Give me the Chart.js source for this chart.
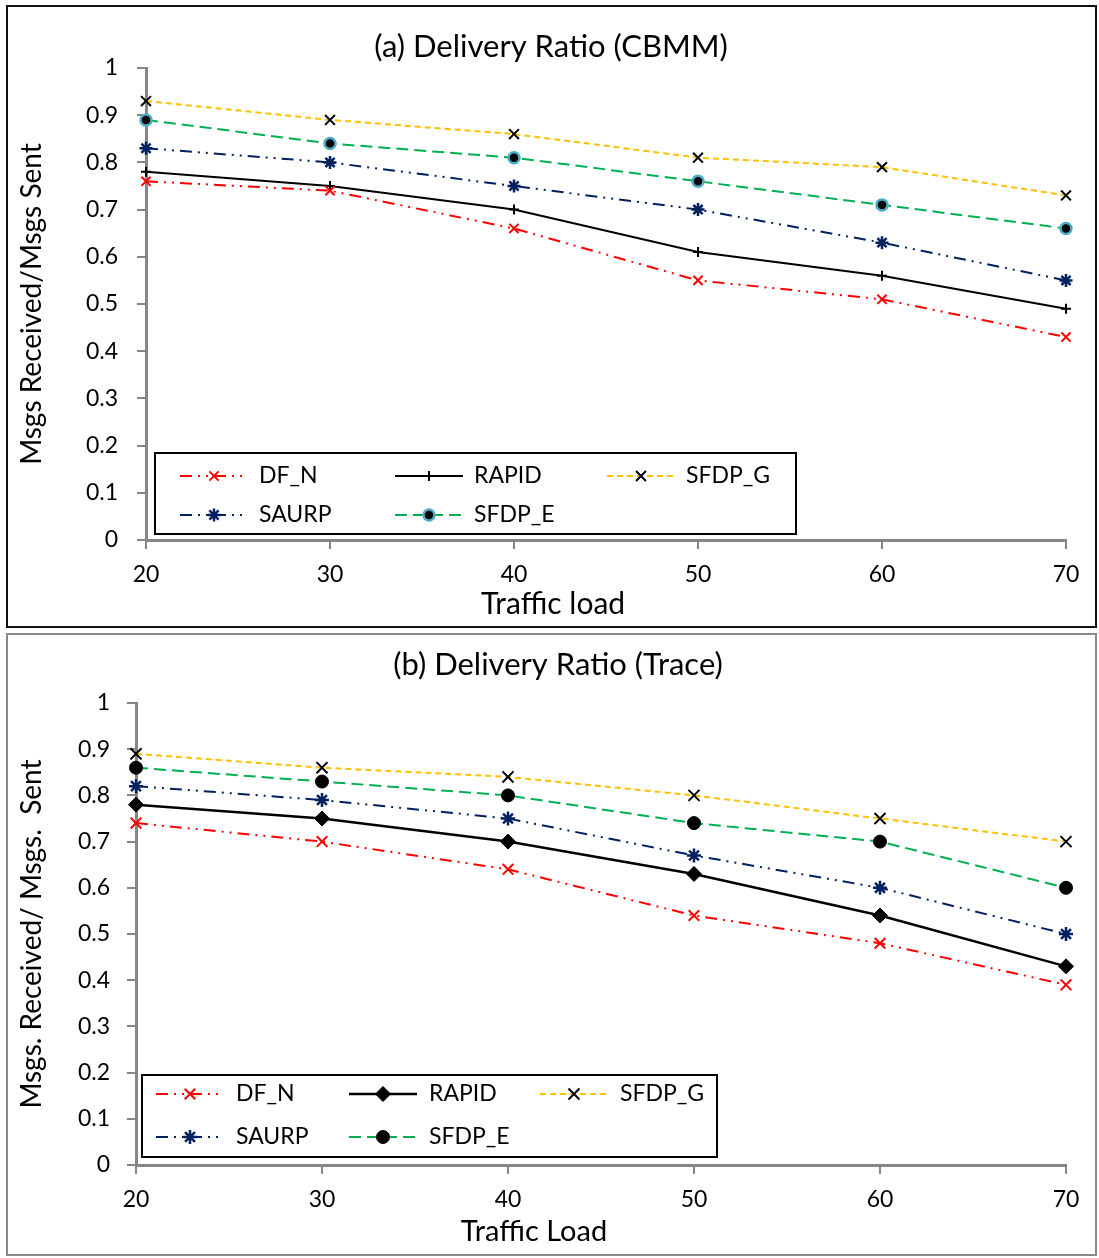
<!DOCTYPE html>
<html>
<head>
<meta charset="utf-8">
<title>Delivery Ratio</title>
<script src="https://cdn.jsdelivr.net/npm/chart.js@4.4.0/dist/chart.umd.min.js"></script>
<style>
    body { margin: 0; background: #fff; width: 1099px; height: 1258px; position: relative; overflow: hidden; }
    .panel { position: absolute; left: 6px; width: 1091px; height: 623px; box-sizing: border-box; background: #fff; }
    #panel-a { top: 5px; border: 2px solid #111; }
    #panel-b { top: 633px; border: 2px solid #8a8a8a; }
    canvas { display: block; }
</style>
</head>
<body>
<div class="panel" id="panel-a"><canvas id="chart-a" width="1087" height="619"></canvas></div>
<div class="panel" id="panel-b"><canvas id="chart-b" width="1087" height="619"></canvas></div>
<script>
// 数据
const trafficLoad = [20, 30, 40, 50, 60, 70];
const yTicks = [0, 0.1, 0.2, 0.3, 0.4, 0.5, 0.6, 0.7, 0.8, 0.9, 1];

// (a) CBMM
const cbmmDFN    = [0.76, 0.74, 0.66, 0.55, 0.51, 0.43];
const cbmmRAPID  = [0.78, 0.75, 0.70, 0.61, 0.56, 0.49];
const cbmmSFDPG  = [0.93, 0.89, 0.86, 0.81, 0.79, 0.73];
const cbmmSAURP  = [0.83, 0.80, 0.75, 0.70, 0.63, 0.55];
const cbmmSFDPE  = [0.89, 0.84, 0.81, 0.76, 0.71, 0.66];

// (b) Trace
const traceDFN   = [0.74, 0.70, 0.64, 0.54, 0.48, 0.39];
const traceRAPID = [0.78, 0.75, 0.70, 0.63, 0.54, 0.43];
const traceSFDPG = [0.89, 0.86, 0.84, 0.80, 0.75, 0.70];
const traceSAURP = [0.82, 0.79, 0.75, 0.67, 0.60, 0.50];
const traceSFDPE = [0.86, 0.83, 0.80, 0.74, 0.70, 0.60];

Chart.defaults.font.family = 'Lato';
Chart.defaults.color = '#000';

const AXIS_GRAY = '#868686';

function makeSet(label, values, style) {
    return Object.assign({
        label: label,
        data: trafficLoad.map((x, i) => ({ x: x, y: values[i] })),
        fill: false,
        tension: 0,
        borderWidth: 2,
        clip: false
    }, style);
}

// 图例（画在绘图区内，带边框）
const boxLegend = {
    id: 'boxLegend',
    afterDatasetsDraw(chart, args, opts) {
        const ctx = chart.ctx;
        const area = chart.chartArea;
        const x0 = area.left + opts.left;
        const y0 = area.bottom - opts.bottom - opts.height;
        ctx.save();
        ctx.fillStyle = '#fff';
        ctx.fillRect(x0, y0, opts.width, opts.height);
        ctx.lineWidth = 2;
        ctx.strokeStyle = '#000';
        ctx.strokeRect(x0, y0, opts.width, opts.height);
        chart.data.datasets.forEach((ds, i) => {
            const col = i % 3, row = Math.floor(i / 3);
            const sx = x0 + opts.sampleX[col];
            const cy = y0 + opts.rowY[row];
            ctx.save();
            ctx.strokeStyle = ds.borderColor;
            ctx.lineWidth = ds.borderWidth;
            ctx.setLineDash(ds.borderDash || []);
            ctx.beginPath();
            ctx.moveTo(sx, cy);
            ctx.lineTo(sx + opts.sampleW, cy);
            ctx.stroke();
            ctx.restore();

            ctx.save();
            ctx.strokeStyle = ds.pointBorderColor;
            ctx.fillStyle = ds.pointBackgroundColor;
            ctx.lineWidth = ds.pointBorderWidth;
            Chart.helpers.drawPoint(ctx, {
                pointStyle: ds.pointStyle,
                radius: ds.pointRadius,
                rotation: 0,
                borderWidth: ds.pointBorderWidth
            }, sx + opts.sampleW / 2, cy);
            ctx.restore();

            ctx.fillStyle = '#000';
            ctx.font = opts.font;
            ctx.textBaseline = 'middle';
            ctx.textAlign = 'left';
            ctx.fillText(ds.label, sx + opts.sampleW + opts.gap, cy);
        });
        ctx.restore();
    }
};

// 标题和 X 轴标题（以整个面板为基准定位）
const captions = {
    id: 'captions',
    afterDraw(chart, args, opts) {
        const ctx = chart.ctx;
        ctx.save();
        ctx.fillStyle = '#000';
        ctx.textAlign = 'center';
        ctx.textBaseline = 'middle';
        opts.items.forEach(c => {
            ctx.font = c.font;
            ctx.fillText(c.text, c.x, c.y);
        });
        ctx.restore();
    }
};

function buildChart(id, cfg) {
    const sets = [
        makeSet('DF_N', cfg.dfn, {
            borderColor: '#ff0000', borderDash: [12, 6, 2, 6, 2, 6],
            pointStyle: 'crossRot', pointRadius: cfg.xr, pointBorderWidth: 2,
            pointBorderColor: '#ff0000', pointBackgroundColor: '#ff0000'
        }),
        makeSet('RAPID', cfg.rapid, cfg.rapidStyle),
        makeSet('SFDP_G', cfg.sfdpg, {
            borderColor: '#ffc000', borderDash: [6, 4],
            pointStyle: 'crossRot', pointRadius: cfg.gr, pointBorderWidth: 2,
            pointBorderColor: '#000', pointBackgroundColor: '#000'
        }),
        makeSet('SAURP', cfg.saurp, {
            borderColor: '#002060', borderDash: [12, 6, 2, 6, 2, 6],
            pointStyle: 'star', pointRadius: cfg.sr, pointBorderWidth: 2.5,
            pointBorderColor: '#002060', pointBackgroundColor: '#002060'
        }),
        makeSet('SFDP_E', cfg.sfdpe, cfg.sfdpeStyle)
    ];

    return new Chart(document.getElementById(id).getContext('2d'), {
        type: 'line',
        data: { datasets: sets },
        plugins: [boxLegend, captions],
        options: {
            responsive: false,
            animation: false,
            events: [],
            layout: { padding: { left: 0, right: 29, top: cfg.topPad, bottom: 0 } },
            plugins: {
                legend: { display: false },
                tooltip: { enabled: false },
                title: { display: false },
                boxLegend: cfg.legend,
                captions: { items: cfg.captions }
            },
            scales: {
                x: {
                    type: 'linear',
                    min: 20,
                    max: 70,
                    afterFit: s => { s.height = cfg.xHeight; },
                    border: { color: AXIS_GRAY, width: 3 },
                    grid: { drawOnChartArea: false, drawTicks: true, tickLength: 9, color: AXIS_GRAY, lineWidth: 2 },
                    ticks: { stepSize: 10, font: { size: 23 }, padding: 12, color: '#000' }
                },
                y: {
                    min: 0,
                    max: 1,
                    afterFit: s => { s.width = cfg.yWidth; },
                    afterBuildTicks: s => { s.ticks = yTicks.map(v => ({ value: v })); },
                    border: { color: AXIS_GRAY, width: 3 },
                    grid: { drawOnChartArea: false, drawTicks: true, tickLength: 9, color: AXIS_GRAY, lineWidth: 2 },
                    ticks: {
                        font: { size: 23 },
                        padding: cfg.yTickPad,
                        color: '#000',
                        callback: v => String(Number(v.toFixed(1)))
                    },
                    title: {
                        display: true,
                        text: cfg.yTitle,
                        font: { size: 28 },
                        color: '#000',
                        padding: { top: 7, bottom: 0 }
                    }
                }
            }
        }
    });
}

// (a)
buildChart('chart-a', {
    topPad: 61,
    yTitle: 'Msgs Received/Msgs Sent',
    dfn: cbmmDFN, rapid: cbmmRAPID, sfdpg: cbmmSFDPG, saurp: cbmmSAURP, sfdpe: cbmmSFDPE,
    xr: 6.5, gr: 7, sr: 6.5,
    rapidStyle: {
        borderColor: '#000', borderWidth: 2,
        pointStyle: 'cross', pointRadius: 5, pointBorderWidth: 2,
        pointBorderColor: '#000', pointBackgroundColor: '#000'
    },
    sfdpeStyle: {
        borderColor: '#00b050', borderDash: [12, 6],
        pointStyle: 'circle', pointRadius: 5.5, pointBorderWidth: 2.5,
        pointBorderColor: '#4bacc6', pointBackgroundColor: '#000'
    },
    xHeight: 86, yWidth: 138, yTickPad: 19,
    legend: {
        left: 9, bottom: 6, width: 641, height: 81,
        rowY: [23, 62], sampleX: [25, 240, 452], sampleW: 68, gap: 11,
        font: '23px Lato'
    },
    captions: [
        { text: '(a) Delivery Ratio (CBMM)', x: 543, y: 40, font: '31px Lato' },
        { text: 'Traffic load', x: 545, y: 597, font: '30px Lato' }
    ]
});

// (b)
buildChart('chart-b', {
    topPad: 68,
    yTitle: 'Msgs. Received/ Msgs.  Sent',
    dfn: traceDFN, rapid: traceRAPID, sfdpg: traceSFDPG, saurp: traceSAURP, sfdpe: traceSFDPE,
    xr: 7.5, gr: 7.8, sr: 7,
    rapidStyle: {
        borderColor: '#000', borderWidth: 2.5,
        pointStyle: 'rectRot', pointRadius: 7.5, pointBorderWidth: 1,
        pointBorderColor: '#000', pointBackgroundColor: '#000'
    },
    sfdpeStyle: {
        borderColor: '#00b050', borderDash: [12, 6],
        pointStyle: 'circle', pointRadius: 6.5, pointBorderWidth: 1,
        pointBorderColor: '#000', pointBackgroundColor: '#000'
    },
    xHeight: 89, yWidth: 128, yTickPad: 17,
    legend: {
        left: 6, bottom: 8, width: 575, height: 82,
        rowY: [19, 62], sampleX: [14, 207, 398], sampleW: 68, gap: 12,
        font: '23px Lato'
    },
    captions: [
        { text: '(b) Delivery Ratio (Trace)', x: 550, y: 30, font: '31px Lato' },
        { text: 'Traffic Load', x: 526, y: 597, font: '29px Lato' }
    ]
});
</script>
</body>
</html>
